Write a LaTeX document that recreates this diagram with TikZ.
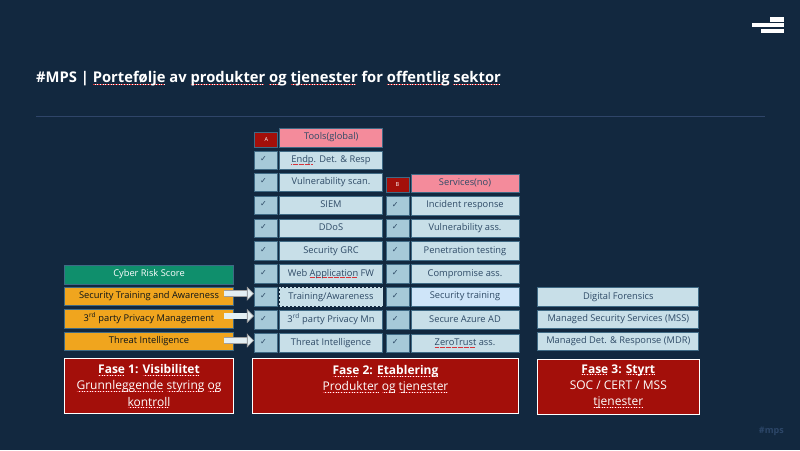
\documentclass[tikz,border=0pt]{standalone}
\usepackage{fontspec}
\setmainfont{Open Sans}
\newfontfamily\symbfont{DejaVu Sans}
\usetikzlibrary{arrows.meta}
\definecolor{slidebg}{HTML}{12283F}
\definecolor{ruleblue}{HTML}{2F4569}
\definecolor{tagblue}{HTML}{2C4668}
\definecolor{cellfill}{HTML}{C8DFE8}
\definecolor{celledge}{HTML}{3F6A85}
\definecolor{celltext}{HTML}{2E4A66}
\definecolor{chkfill}{HTML}{A6C9D8}
\definecolor{hlfill}{HTML}{CFE5F9}
\definecolor{pinkfill}{HTML}{F48B9B}
\definecolor{phasered}{HTML}{A30F0A}
\definecolor{orangefill}{HTML}{F0A51E}
\definecolor{greenfill}{HTML}{0F8F6C}
\definecolor{spellred}{HTML}{D8343A}
\newsavebox{\spellbox}
\newcommand{\spellw}[1]{\leavevmode\sbox{\spellbox}{#1}\rlap{\lower1.7pt\hbox to \wd\spellbox{\leaders\hbox{{\color{white}\rlap{\rule{1.6pt}{.5pt}}}{\color{spellred}\rule{.4pt}{.5pt}}\kern1.2pt}\hfill}}\usebox{\spellbox}}
\newcommand{\spelld}[1]{\leavevmode\sbox{\spellbox}{#1}\rlap{\lower1.6pt\hbox to \wd\spellbox{\leaders\hbox{{\color{spellred}\rule{.5pt}{.4pt}}\kern.7pt}\hfill}}\usebox{\spellbox}}
\newcommand{\tick}{\raisebox{.8pt}{✓}\kern4.5pt}
\tikzset{
	cell/.style = {draw = celledge, line width = .7pt, fill = cellfill, text = celltext, inner sep = 0pt,
		font = \fontsize{9.3}{10}\selectfont, minimum height = 18.6pt, text height = 6.6pt, text depth = 2pt},
	tool/.style = {cell, minimum width = 103pt},
	serv/.style = {cell, minimum width = 108pt},
	mgd/.style = {cell, minimum width = 161pt},
	chk/.style = {cell, fill = chkfill, minimum width = 23pt, font = \symbfont\fontsize{8}{9}\selectfont},
	head/.style = {cell, fill = pinkfill, draw = celledge},
	tagbox/.style = {draw = celledge, line width = .7pt, fill = phasered, text = white, inner sep = 0pt,
		minimum width = 23pt, minimum height = 15pt, font = \fontsize{5.5}{6}\selectfont},
	lvl/.style = {cell, draw = celledge, minimum width = 169.4pt, fill = orangefill, text = black!75!celltext},
	phase/.style = {draw = white, line width = .9pt, fill = phasered, text = white, inner sep = 0pt,
		minimum height = 55pt, align = center, font = \fontsize{12}{16.3}\selectfont},
	feed/.style = {draw = gray!75, line width = .7pt, double = cellfill!50!white, double distance = 5.4pt,
		-{Triangle[length = 7pt, width = 14pt, fill = cellfill!50!white, color = gray!75, line width = .6pt]}},
	logobar/.style = {fill = white, draw = none, inner sep = 0pt, minimum height = 4.5pt}
}
\begin{document}
\begin{tikzpicture}[x = 1pt, y = -1pt]
	\useasboundingbox [fill = slidebg] (0,0) rectangle (800,450);

	\node (bar1) at (777,19.4) [logobar, minimum width = 14pt] {};
	\node (bar2) at (768,25.2) [logobar, minimum width = 32pt] {};
	\node (bar3) at (772.5,31.1) [logobar, minimum width = 23pt] {};

	\node (title) at (36,79) [anchor = west, text = white, inner sep = 0pt, font = \bfseries\fontsize{14.75}{16}\selectfont]
		{\#MPS | \spellw{Portefølje} av \spellw{produkter} \spellw{og} \spellw{tjenester} for \spellw{offentlig} \spellw{sektor}};
	\coordinate (ruleL) at (36,116.3);
	\coordinate (ruleR) at (765,116.3);
	\draw [ruleblue, line width = .8pt] (ruleL) -- (ruleR);
	\node (tag) at (784,431) [anchor = east, text = tagblue, inner sep = 0pt, font = \bfseries\fontsize{9}{10}\selectfont] {\#mps};

	\node (tagA) at (266.3,139.4) [tagbox] {A};
	\node (tools) at (331.2,137.6) [head, tool, fill = pinkfill] {Tools(global)};
	\node (c1) at (265.8,160.2) [chk] {\tick};
	\node (t1) at (331,160.2) [tool] {\spelld{Endp}. Det. \& Resp};
	\node (c2) at (265.8,182.3) [chk] {\tick};
	\node (t2) at (331,182.3) [tool] {Vulnerability scan.};
	\node (c3) at (265.8,205.2) [chk] {\tick};
	\node (t3) at (331,205.2) [tool] {SIEM};
	\node (c4) at (265.8,228.3) [chk] {\tick};
	\node (t4) at (331,228.3) [tool] {DDoS};
	\node (c5) at (265.8,251) [chk] {\tick};
	\node (t5) at (331,251) [tool] {Security GRC};
	\node (c6) at (265.8,273.8) [chk] {\tick};
	\node (t6) at (331,273.8) [tool] {Web \spelld{Application} FW};
	\node (c7) at (265.8,296.8) [chk] {\tick};
	\node (t7) at (331,296.8) [tool, draw = cellfill, line width = 1pt, dash pattern = on 2.5pt off 1.5pt] {Training/Awareness};
	\node (c8) at (265.8,319.8) [chk] {\tick};
	\node (t8) at (331,319.8) [tool] {3\textsuperscript{rd} party Privacy Mn};
	\node (c9) at (265.8,343) [chk] {\tick};
	\node (t9) at (331,343) [tool] {Threat Intelligence};

	\node (tagB) at (397.4,185) [tagbox] {B};
	\node (servs) at (465,183.2) [head, serv, fill = pinkfill] {Services(no)};
	\node (d1) at (397.4,205.6) [chk] {\tick};
	\node (s1) at (465,205.6) [serv] {Incident response};
	\node (d2) at (397.4,228.3) [chk] {\tick};
	\node (s2) at (465,228.3) [serv] {Vulnerability ass.};
	\node (d3) at (397.4,251) [chk] {\tick};
	\node (s3) at (465,251) [serv] {Penetration testing};
	\node (d4) at (397.4,273.8) [chk] {\tick};
	\node (s4) at (465,273.8) [serv] {Compromise ass.};
	\node (d5) at (397.4,296.6) [chk] {\tick};
	\node (s5) at (465,296.6) [serv, fill = hlfill] {Security training};
	\node (d6) at (397.4,320) [chk] {\tick};
	\node (s6) at (465,320) [serv] {Secure Azure AD};
	\node (d7) at (397.4,343.4) [chk] {\tick};
	\node (s7) at (465,343.4) [serv] {\spelld{ZeroTrust} ass.};

	\node (m1) at (618.3,296.8) [mgd] {Digital Forensics};
	\node (m2) at (618.3,319.4) [mgd] {Managed Security Services (MSS)};
	\node (m3) at (618.3,341.2) [mgd] {Managed Det. \& Response (MDR)};

	\node (score) at (149,274.6) [lvl, fill = greenfill, text = white] {Cyber Risk Score};
	\node (l1) at (149,296.4) [lvl] {Security Training and Awareness};
	\node (l2) at (149,318.7) [lvl] {3\textsuperscript{rd} party Privacy Management};
	\node (l3) at (149,341.4) [lvl] {Threat Intelligence};

	\coordinate (a1) at (224,293.7);
	\coordinate (a2) at (224,316);
	\coordinate (a3) at (224,340.5);
	\draw [feed] (a1) -- (a1 -| c7.west);
	\draw [feed] (a2) -- (a2 -| c8.west);
	\draw [feed] (a3) -- (a3 -| c9.west);

	\node (f1) at (149,386.2) [phase, minimum width = 169.4pt]
		{\textbf{\spellw{Fase} 1: \spellw{Visibilitet}}\\\spellw{Grunnleggende} \spellw{styring} \spellw{og}\\\spellw{kontroll}};
	\node (f2) at (385.5,386.2) [phase, minimum width = 266.4pt, text depth = 16.3pt]
		{\textbf{\spellw{Fase} 2: \spellw{Etablering}}\\\spellw{Produkter} \spellw{og} \spellw{tjenester}};
	\node (f3) at (618.3,386.5) [phase, minimum width = 161.3pt]
		{\textbf{\spellw{Fase} 3: \spellw{Styrt}}\\SOC / CERT / MSS\\\spellw{tjenester}};
\end{tikzpicture}
\end{document}
